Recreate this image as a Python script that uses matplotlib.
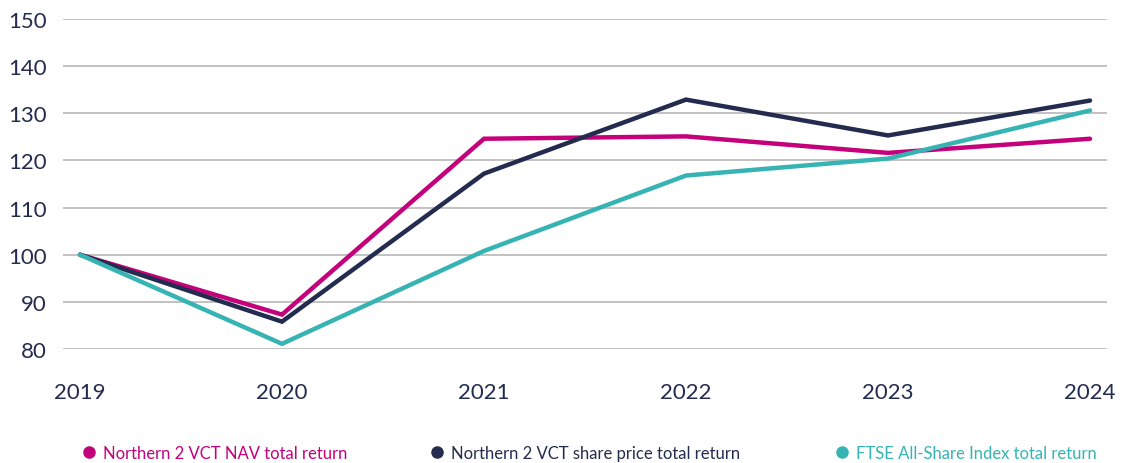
import matplotlib
matplotlib.use("Agg")
import matplotlib.pyplot as plt
from matplotlib.lines import Line2D

years = [2019, 2020, 2021, 2022, 2023, 2024]
nav = [100, 87.3, 124.6, 125.1, 121.6, 124.6]
share_price = [100, 85.8, 117.2, 132.9, 125.3, 132.7]
ftse = [100, 81.1, 100.8, 116.8, 120.4, 130.6]
labels = ["Northern 2 VCT NAV total return",
          "Northern 2 VCT share price total return",
          "FTSE All-Share Index total return"]
yticks = [80, 90, 100, 110, 120, 130, 140, 150]

colors = ["#C4007A", "#232B4F", "#36B3B3"]
navy = "#232B4F"
plt.rcParams['font.family'] = ['Lato', 'DejaVu Sans']

fig = plt.figure(figsize=(11.21, 4.64), dpi=100)
W, H = 1121, 464
ax = fig.add_axes([63 / W, 1 - 350 / H, (1107 - 63) / W, (350 - 20) / H])

for y in yticks:
    ax.axhline(y, color="#BDBDBD", lw=1.3, zorder=1)

series = [nav, share_price, ftse]
for s, c in zip(series, colors):
    ax.plot(years, s, color=c, lw=3.2, solid_capstyle="round",
            solid_joinstyle="miter", zorder=3, clip_on=False)

ax.set_xlim(2019 - 17 / 202, 2024 + 17 / 202)
ax.set_ylim(80, 150)
ax.set_yticks(yticks)
ax.set_xticks(years)
ax.set_xticklabels([str(y) for y in years])
for sp in ax.spines.values():
    sp.set_visible(False)
ax.tick_params(axis="both", length=0, labelsize=16, colors=navy)
ax.tick_params(axis="y", pad=12)
ax.tick_params(axis="x", pad=24)

# legends
pos = [95, 443, 848]
for lab, c, x in zip(labels, colors, pos):
    h = Line2D([], [], marker="o", color=c, ls="none", markersize=8)
    lg = fig.legend([h], [lab], loc="center left",
                    bbox_to_anchor=((x - 14) / W, 1 - 454 / H),
                    frameon=False, fontsize=12, handletextpad=0.3,
                    handlelength=1.0, borderpad=0, borderaxespad=0)
    for t in lg.get_texts():
        t.set_color(c)

fig.savefig("out.png", dpi=100)
